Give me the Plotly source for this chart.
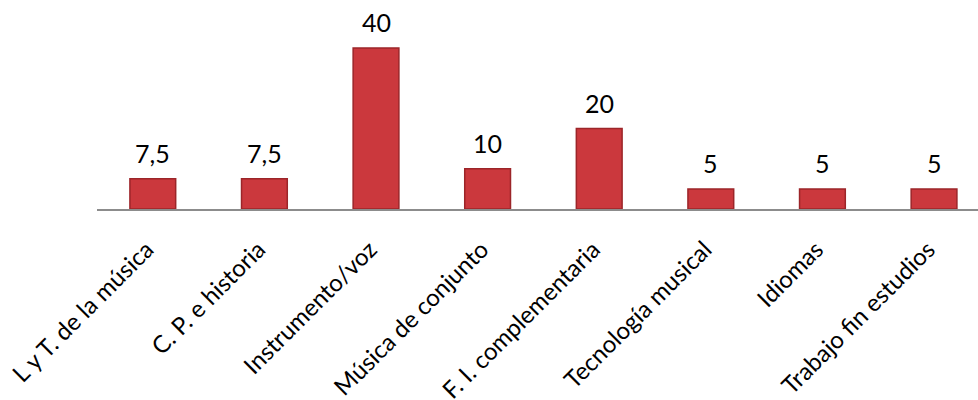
import plotly.graph_objects as go

categories = ["L y T. de la música", "C. P. e historia", "Instrumento/voz",
              "Música de conjunto", "F. I. complementaria", "Tecnología musical",
              "Idiomas", "Trabajo fin estudios"]
values = [7.5, 7.5, 40, 10, 20, 5, 5, 5]
value_labels = ["7,5", "7,5", "40", "10", "20", "5", "5", "5"]

FONT = "Lato"

fig = go.Figure()
fig.add_trace(go.Bar(
    x=categories, y=values, width=0.41,
    marker=dict(color="#cb383d", line=dict(color="#9c2529", width=1.5)),
    hoverinfo="skip",
))

for c, v, t in zip(categories, values, value_labels):
    fig.add_annotation(x=c, y=v, text=t, showarrow=False, yanchor="bottom",
                       yshift=9, font=dict(family=FONT, size=25, color="#000000"))

fig.update_layout(
    width=978, height=400,
    margin=dict(l=97, r=0, t=0, b=191),
    paper_bgcolor="white", plot_bgcolor="white",
    showlegend=False,
    xaxis=dict(range=[-0.5, 7.394], tickangle=-45, showgrid=False, automargin=False,
               showline=True, linecolor="#8c8c8c", linewidth=2, ticks="",
               ticklabelstandoff=15, ticklabelshift=-6,
               tickfont=dict(family=FONT, size=24, color="#000000"), fixedrange=True),
    yaxis=dict(range=[0, 51.93], visible=False, fixedrange=True, automargin=False),
)

fig.write_html("out.html", config={"displayModeBar": False},
               post_script="document.body.style.margin='0';document.body.style.overflow='hidden';")
